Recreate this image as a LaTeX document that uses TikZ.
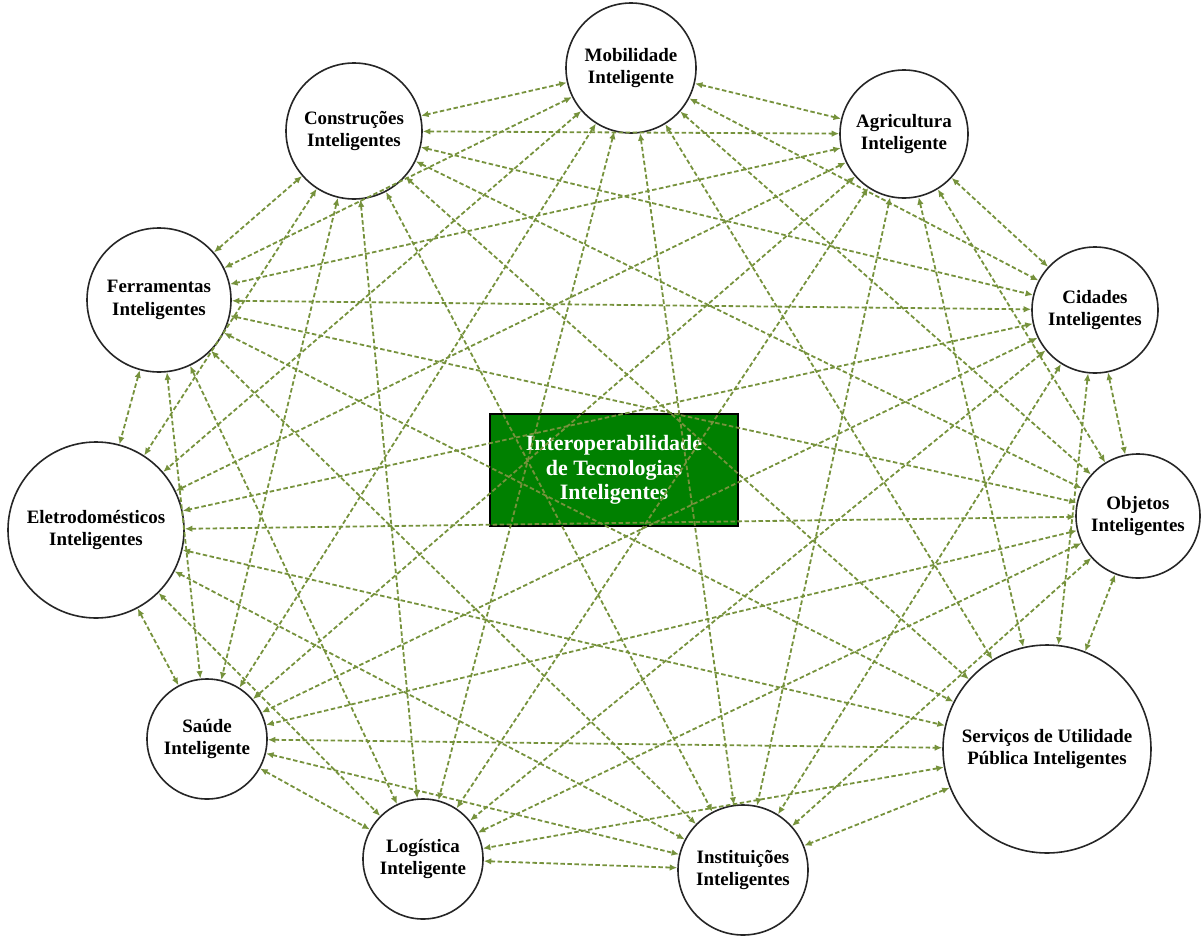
\documentclass[tikz,border=0pt]{standalone}
\usepackage{fontspec}
\setmainfont{Liberation Serif}
\usetikzlibrary{arrows.meta}
\definecolor{edgegreen}{RGB}{118,146,60}
\definecolor{boxgreen}{RGB}{0,128,0}
\begin{document}
\begin{tikzpicture}[x=1bp,y=-1bp,
  circ/.style={circle,draw=black!85,line width=1.6bp,fill=white,inner sep=0pt,align=center,
    font=\bfseries\fontsize{19}{23}\selectfont},
  edge/.style={draw=edgegreen,line width=1.8bp,dash pattern=on 4.5bp off 2.5bp,
    {Latex[length=7.5bp,width=6.5bp]}-{Latex[length=7.5bp,width=6.5bp]}},
  centerbox/.style={draw=black,line width=2.2bp,fill=boxgreen,text=white,align=center,
    minimum width=248bp,minimum height=112bp,inner sep=0pt,
    font=\bfseries\fontsize{22}{24.5}\selectfont}]
\useasboundingbox (0,0) rectangle (1204,936);
\node[centerbox] (hub) at (614,470) {Interoperabilidade\\de Tecnologias\\Inteligentes};
\node[circ,minimum size=130bp] (mob) at (631,68) {Mobilidade\\Inteligente};
\node[circ,minimum size=136bp] (con) at (354,131) {Construções\\Inteligentes};
\node[circ,minimum size=128bp] (agr) at (904,134) {Agricultura\\Inteligente};
\node[circ,minimum size=144bp] (fer) at (159,300) {Ferramentas\\Inteligentes};
\node[circ,minimum size=126bp] (cid) at (1095,310) {Cidades\\Inteligentes};
\node[circ,minimum size=176bp] (ele) at (96,530) {Eletrodomésticos\\Inteligentes};
\node[circ,minimum size=124bp] (obj) at (1138,516) {Objetos\\Inteligentes};
\node[circ,minimum size=120bp] (sau) at (207,739) {Saúde\\Inteligente};
\node[circ,minimum size=208bp] (ser) at (1047,749) {Serviços de Utilidade\\Pública Inteligentes};
\node[circ,minimum size=120bp] (log) at (423,859) {Logística\\Inteligente};
\node[circ,minimum size=130bp] (ins) at (743,870) {Instituições\\Inteligentes};
\def\nodelist{mob,con,agr,fer,cid,ele,obj,sau,ser,log,ins}
\foreach \a [count=\i] in \nodelist {
  \foreach \b [count=\j] in \nodelist {
    \ifnum\i<\j
      \draw[edge] (\a) -- (\b);
    \fi
  }
}
\end{tikzpicture}
\end{document}
